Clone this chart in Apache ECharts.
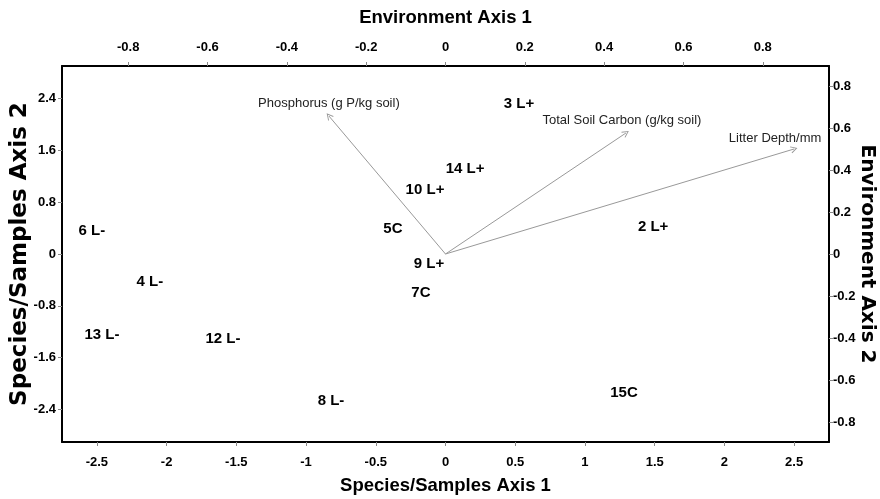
<!DOCTYPE html>
<html><head><meta charset="utf-8">
<script src="https://cdn.jsdelivr.net/npm/echarts@6/dist/echarts.min.js"></script>
<style>html,body{margin:0;padding:0;background:#fff}#c{width:880px;height:499px}</style>
</head><body><div id="c"></div>
<script>
// Sample (site) scores on species/samples axes
const sampleNames = ['3 L+','14 L+','10 L+','5C','6 L-','2 L+','9 L+','4 L-','7C','13 L-','12 L-','15C','8 L-'];
const sampleX = [0.527, 0.14, -0.147, -0.377, -2.536, 1.489, -0.118, -2.12, -0.176, -2.464, -1.596, 1.28, -0.821];
const sampleY = [2.31, 1.32, 0.985, 0.385, 0.354, 0.415, -0.154, -0.431, -0.6, -1.246, -1.308, -2.138, -2.262];

// Environmental vectors on environment axes
const envNames = ['Phosphorus (g P/kg soil)', 'Total Soil Carbon (g/kg soil)', 'Litter Depth/mm'];
const envX = [-0.294, 0.455, 0.879];
const envY = [0.657, 0.576, 0.50];

// Tick labels
const xTicks = [-2.5, -2, -1.5, -1, -0.5, 0, 0.5, 1, 1.5, 2, 2.5];
const yTicks = [-2.4, -1.6, -0.8, 0, 0.8, 1.6, 2.4];
const envXTicks = [-0.8, -0.6, -0.4, -0.2, 0, 0.2, 0.4, 0.6, 0.8];
const envYTicks = [-0.8, -0.6, -0.4, -0.2, 0, 0.2, 0.4, 0.6, 0.8];

const SANS = "'Liberation Sans', Arial, sans-serif";
const WIDE = "'DejaVu Sans', 'Liberation Sans', sans-serif";

function axisBase(ticks, labelMargin) {
  return {
    type: 'value',
    nameMoveOverlap: false,
    axisLine: { show: true, onZero: false, lineStyle: { color: '#000', width: 2 } },
    axisTick: { show: true, customValues: ticks, length: 4, lineStyle: { color: '#888', width: 1 } },
    axisLabel: { customValues: ticks, margin: labelMargin, color: '#000', fontFamily: SANS, fontWeight: 'bold', fontSize: 13 },
    splitLine: { show: false }
  };
}

const envLabelOffsets = { 'Phosphorus (g P/kg soil)': [0, 0], 'Total Soil Carbon (g/kg soil)': [-4, 0], 'Litter Depth/mm': [-19, 2] };

const option = {
  animation: false,
  backgroundColor: '#fff',
  grid: { left: 62, right: 51, top: 66, bottom: 57, show: false, outerBoundsMode: 'none', containLabel: false },
  xAxis: [
    Object.assign(axisBase(xTicks, 14), {
      position: 'bottom', min: -2.75, max: 2.75,
      name: 'Species/Samples Axis 1', nameLocation: 'middle', nameGap: 34,
      nameTextStyle: { fontFamily: SANS, fontWeight: 'bold', fontSize: 18.5, color: '#000' }
    }),
    Object.assign(axisBase(envXTicks, 12), {
      position: 'top', min: -0.967, max: 0.967,
      name: 'Environment Axis 1', nameLocation: 'middle', nameGap: 39,
      nameTextStyle: { fontFamily: SANS, fontWeight: 'bold', fontSize: 18.5, color: '#000' }
    })
  ],
  yAxis: [
    Object.assign(axisBase(yTicks, 6), {
      position: 'left', min: -2.9, max: 2.9,
      name: 'Species/Samples Axis 2', nameLocation: 'middle', nameGap: 30,
      nameTextStyle: { fontFamily: WIDE, fontWeight: 'bold', fontSize: 23, color: '#000' }
    }),
    Object.assign(axisBase(envYTicks, 4), {
      position: 'right', min: -0.895, max: 0.895,
      name: 'Environment Axis 2', nameLocation: 'middle', nameGap: 28, nameRotate: -90,
      nameTextStyle: { fontFamily: WIDE, fontWeight: 'bold', fontSize: 20, color: '#000' }
    })
  ],
  series: [
    {
      type: 'lines',
      coordinateSystem: 'cartesian2d',
      xAxisIndex: 1, yAxisIndex: 1,
      symbol: ['none', 'path://M5,0 L10,8 L8.9,8.7 L5,2.3 L1.1,8.7 L0,8 Z'],
      symbolSize: [8, 7],
      lineStyle: { color: '#999', width: 1, opacity: 1, curveness: 0 },
      silent: true,
      data: envNames.map((n, i) => ({ coords: [[0, 0], [envX[i], envY[i]]] }))
    },
    {
      type: 'scatter',
      xAxisIndex: 1, yAxisIndex: 1,
      symbolSize: 0,
      silent: true,
      itemStyle: { opacity: 1 },
      label: { show: true, position: 'top', distance: 6, color: '#222', fontFamily: SANS, fontSize: 13, formatter: p => p.name },
      data: envNames.map((n, i) => ({ name: n, value: [envX[i], envY[i]], label: { offset: envLabelOffsets[n] } }))
    },
    {
      type: 'scatter',
      xAxisIndex: 0, yAxisIndex: 0,
      symbolSize: 0,
      silent: true,
      itemStyle: { opacity: 1 },
      label: { show: true, position: 'inside', color: '#000', textBorderWidth: 0, textBorderColor: 'transparent', fontFamily: SANS, fontWeight: 'bold', fontSize: 15, formatter: p => p.name },
      data: sampleNames.map((n, i) => ({ name: n, value: [sampleX[i], sampleY[i]] }))
    }
  ]
};

const chart = echarts.init(document.getElementById('c'), null, { renderer: 'canvas' });
chart.setOption(option);
</script>
</body></html>
